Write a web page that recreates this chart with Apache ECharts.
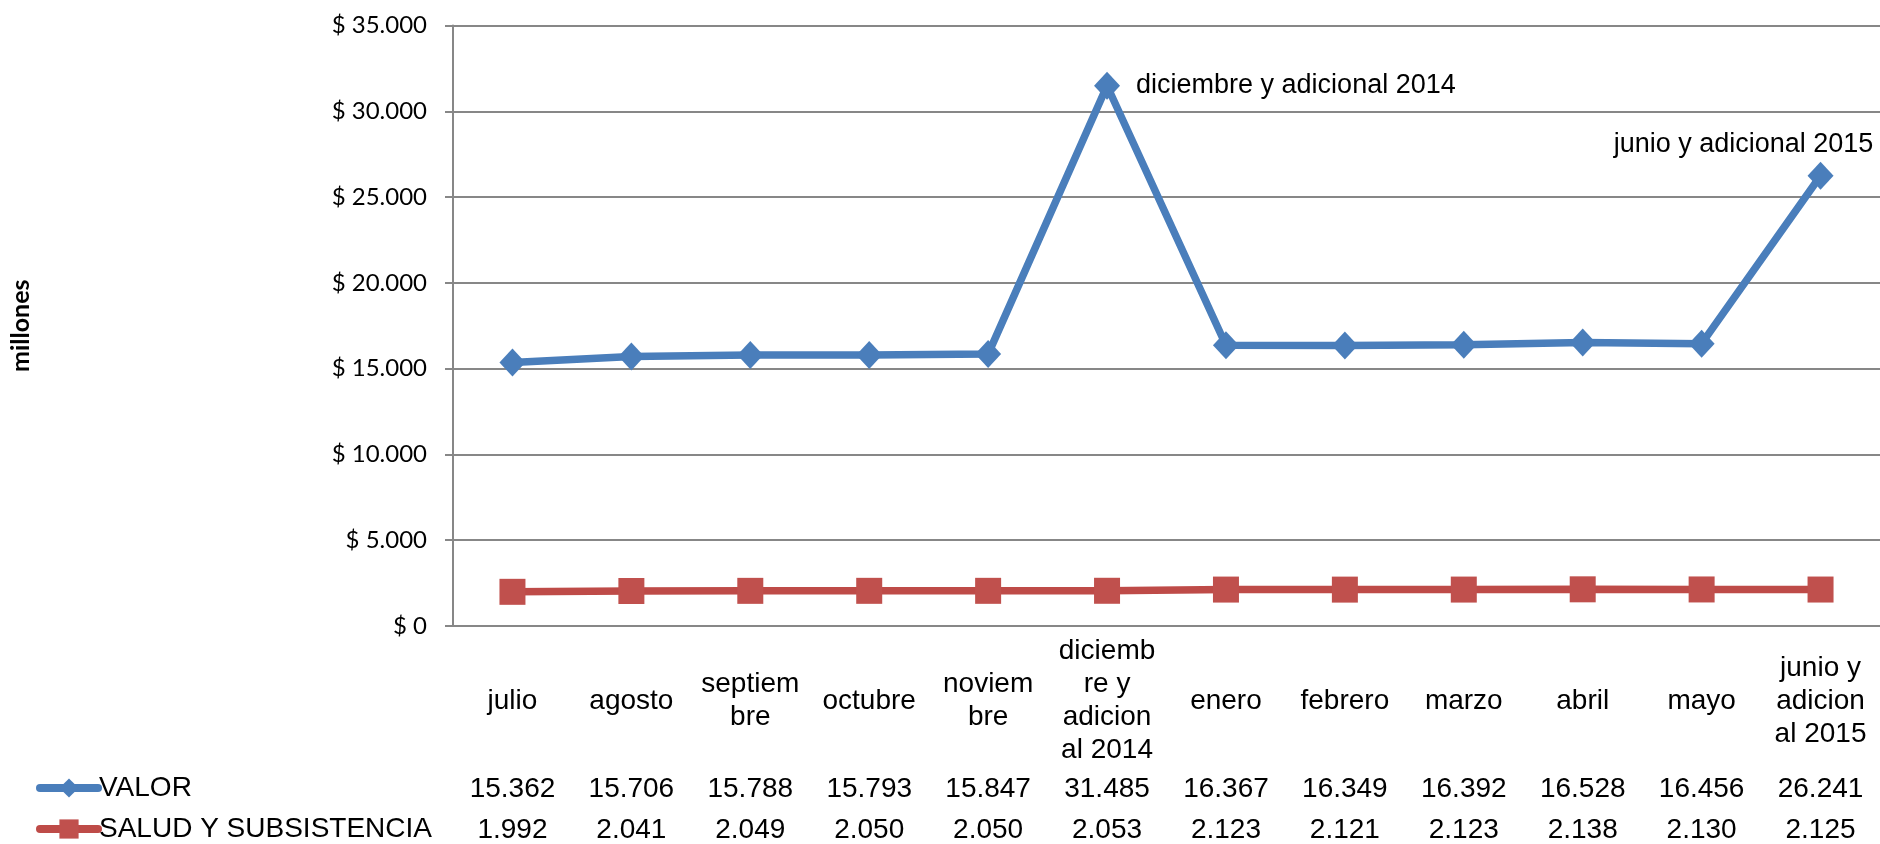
<!DOCTYPE html>
<html>
<head>
<meta charset="utf-8">
<title>VALOR / SALUD Y SUBSISTENCIA</title>
<script src="https://cdn.jsdelivr.net/npm/echarts@6/dist/echarts.min.js"></script>
<style>
    html, body { margin: 0; padding: 0; background: #fff; }
    #chart { width: 1880px; height: 844px; }
</style>
</head>
<body>
<div id="chart"></div>
<script>
// data (millones)
let categories = [
    'julio', 'agosto', 'septiembre', 'octubre', 'noviembre', 'diciembre y adicional 2014',
    'enero', 'febrero', 'marzo', 'abril', 'mayo', 'junio y adicional 2015'
];
let tickLabels = [
    'julio', 'agosto', 'septiem\nbre', 'octubre', 'noviem\nbre', 'diciemb\nre y\nadicion\nal 2014',
    'enero', 'febrero', 'marzo', 'abril', 'mayo', 'junio y\nadicion\nal 2015'
];
let valor = [15362, 15706, 15788, 15793, 15847, 31485, 16367, 16349, 16392, 16528, 16456, 26241];
let salud = [1992, 2041, 2049, 2050, 2050, 2053, 2123, 2121, 2123, 2138, 2130, 2125];
let yTicks = [0, 5000, 10000, 15000, 20000, 25000, 30000, 35000];

function initChart() {
    let chart = echarts.init(document.getElementById('chart'));
    let txt = '"Liberation Sans", Arial, sans-serif';
    let grey = '#878787';
    let blue = '#4A7EBB';
    let red = '#BE4B48';

    let formatNumber = function(num) {
        let reg = /(?=(\B)(\d{3})+$)/g;
        return num.toString().replace(reg, '.');
    };

    // the two points with a text next to them
    let valorData = valor.map((v, i) => {
        if (i === 5) {
            return {
                value: v,
                label: { show: true, position: 'right', distance: 16, formatter: categories[i] }
            };
        }
        if (i === 11) {
            return {
                value: v,
                label: { show: true, position: 'top', distance: 4, offset: [-77, 0], formatter: categories[i] }
            };
        }
        return v;
    });

    // one hidden axis per table row, labels taken from the series values
    let tableAxis = function(values, margin) {
        return {
            type: 'category',
            gridIndex: 0,
            position: 'bottom',
            data: categories,
            axisLine: { show: false },
            axisTick: { show: false },
            axisLabel: {
                interval: 0,
                margin: margin,
                verticalAlign: 'middle',
                fontFamily: txt,
                fontSize: 28,
                color: '#000',
                formatter: (val, idx) => formatNumber(values[idx])
            }
        };
    };

    let legendRow = function(name, top) {
        return {
            orient: 'vertical',
            left: 36,
            top: top,
            padding: 0,
            itemWidth: 58,
            itemHeight: 24,
            lineStyle: { width: 8, cap: 'round' },
            textStyle: { fontFamily: txt, fontSize: 28, color: '#000', padding: [0, 0, 0, -4] },
            data: [name]
        };
    };

    let option = {
        animation: false,
        grid: {
            left: 453,
            top: 25.5,
            width: 1432,
            height: 601
        },
        legend: [
            legendRow('VALOR', 774),
            legendRow('SALUD Y SUBSISTENCIA', 815)
        ],
        xAxis: [
            {
                type: 'category',
                data: categories,
                axisLine: { lineStyle: { color: grey, width: 2 } },
                axisTick: { show: false },
                axisLabel: {
                    interval: 0,
                    margin: 75,
                    verticalAlign: 'middle',
                    lineHeight: 33,
                    fontFamily: txt,
                    fontSize: 28,
                    color: '#000',
                    formatter: (val, idx) => tickLabels[idx]
                }
            },
            tableAxis(valor, 163),
            tableAxis(salud, 204)
        ],
        yAxis: {
            type: 'value',
            min: yTicks[0],
            max: yTicks[yTicks.length - 1],
            interval: yTicks[1] - yTicks[0],
            name: 'millones',
            nameLocation: 'middle',
            nameRotate: 90,
            nameGap: 420,
            nameTextStyle: { fontFamily: 'Lato, sans-serif', fontSize: 25, fontWeight: 'bold', color: '#000' },
            axisLine: { show: true, lineStyle: { color: grey, width: 2 } },
            axisTick: { show: true, inside: false, length: 8, lineStyle: { color: grey, width: 2 } },
            splitLine: { lineStyle: { color: grey, width: 2 } },
            axisLabel: {
                margin: 26,
                fontFamily: 'Lato, sans-serif',
                fontSize: 24,
                color: '#000',
                formatter: v => '$ ' + formatNumber(v)
            }
        },
        series: [
            {
                name: 'VALOR',
                type: 'line',
                data: valorData,
                symbol: 'diamond',
                symbolSize: [26, 28],
                lineStyle: { color: blue, width: 7.5 },
                itemStyle: { color: blue },
                label: { fontFamily: txt, fontSize: 27, color: '#000' },
                z: 3
            },
            {
                name: 'SALUD Y SUBSISTENCIA',
                type: 'line',
                data: salud,
                symbol: 'rect',
                symbolSize: 26,
                lineStyle: { color: red, width: 7.5 },
                itemStyle: { color: '#C0504D' },
                z: 2
            }
        ]
    };

    chart.setOption(option);
    return chart;
}

initChart();
</script>
</body>
</html>
